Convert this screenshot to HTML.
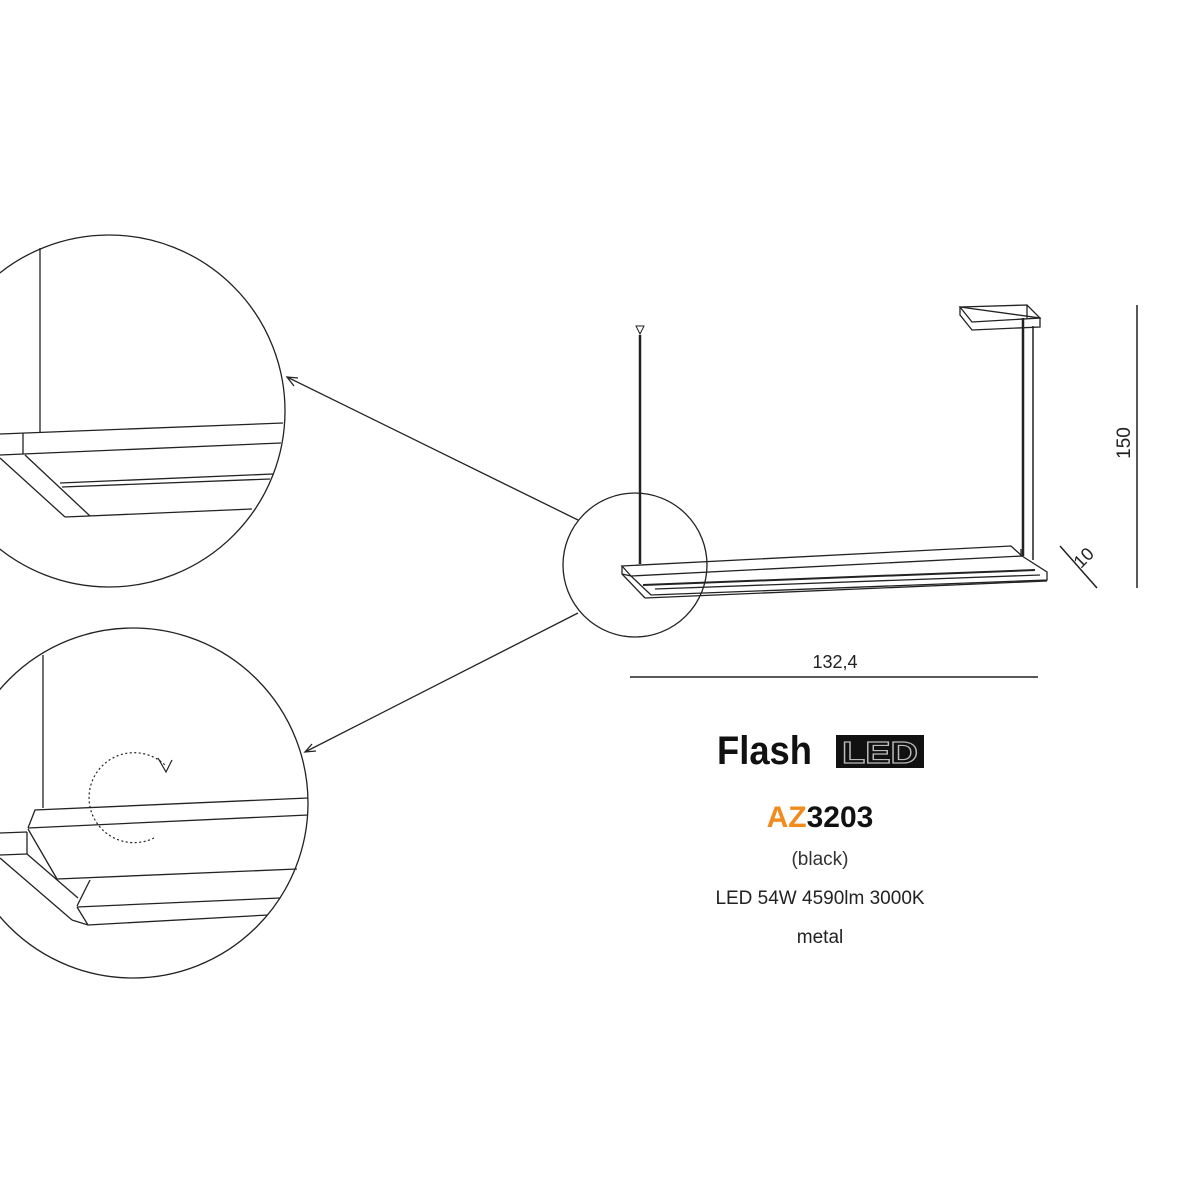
<!DOCTYPE html>
<html><head><meta charset="utf-8"><style>
html,body{margin:0;padding:0;background:#fff;}
svg{display:block;}
</style></head><body>
<svg width="1200" height="1200" viewBox="0 0 1200 1200" xmlns="http://www.w3.org/2000/svg" font-family="Liberation Sans, sans-serif">
<g fill="none" stroke="#222" stroke-width="1.3">
<!-- top detail circle -->
<circle cx="109" cy="411" r="176"/>
<line x1="40" y1="248" x2="40" y2="433"/>
<line x1="0" y1="434" x2="283" y2="423"/>
<line x1="23" y1="433" x2="23" y2="454"/>
<line x1="0" y1="455" x2="281" y2="443"/>
<line x1="0" y1="458" x2="65" y2="517"/>
<line x1="25" y1="455" x2="90" y2="516"/>
<line x1="60" y1="483" x2="273" y2="474"/>
<line x1="62" y1="487" x2="270" y2="479"/>
<line x1="65" y1="517" x2="252" y2="509"/>
<!-- bottom detail circle -->
<circle cx="133" cy="803" r="175"/>
<line x1="43" y1="655" x2="43" y2="808"/>
<polyline points="28,828 35,810 308,798"/>
<line x1="28" y1="828" x2="308" y2="815"/>
<line x1="0" y1="833" x2="27" y2="832"/>
<line x1="0" y1="855" x2="27" y2="854"/>
<line x1="27" y1="832" x2="27" y2="854"/>
<line x1="0" y1="858" x2="72" y2="920"/>
<line x1="28" y1="829" x2="57" y2="879"/>
<line x1="27" y1="854" x2="78" y2="898"/>
<line x1="57" y1="879" x2="297" y2="869"/>
<line x1="90" y1="880" x2="77" y2="906"/>
<line x1="77" y1="907" x2="280" y2="898"/>
<polyline points="72,920 88,925 268,915"/>
<line x1="77" y1="907" x2="88" y2="925"/>
<path d="M154,838 A45,45 0 1 1 165,765" stroke-dasharray="2,2.5" stroke-width="1.2"/>
<polyline points="158,758 166,772 172,760" stroke-width="1.2"/>
<!-- small circle -->
<circle cx="635" cy="565" r="72"/>
<!-- arrows -->
<line x1="578" y1="520" x2="287" y2="377"/>
<polyline points="298,378 287,377 294,386"/>
<line x1="578" y1="613" x2="305" y2="752"/>
<polyline points="312,744 305,752 316,751"/>
<!-- lamp -->
<line x1="640" y1="335" x2="640" y2="564" stroke-width="2.5"/>
<path d="M636,326 L644,326 L640,334 Z" stroke-width="1"/>
<polygon points="960,307 1027,305 1040,318 972,322"/>
<line x1="1027" y1="305" x2="1027" y2="318"/>
<polygon points="960,307 960,315 972,330 1040,327 1040,318"/>
<line x1="1023" y1="318" x2="1023" y2="556" stroke-width="2.5"/>
<line x1="1033" y1="326" x2="1033" y2="560" stroke-width="1.5"/>
<polygon points="622,566 1011,546 1022,556 631,576"/>
<polyline points="622,566 622,574 631,576"/>
<polyline points="631,576 651,595 1047,580 1047,572 1022,556"/>
<line x1="1021" y1="556" x2="1021" y2="549"/>
<line x1="643" y1="585" x2="1035" y2="570" stroke-width="2"/>
<line x1="655" y1="589" x2="1040" y2="575"/>
<line x1="622" y1="574" x2="645" y2="598"/>
<line x1="645" y1="598" x2="1047" y2="581"/>
<!-- dimensions -->
<line x1="1137" y1="305" x2="1137" y2="588" stroke-width="1.5"/>
<line x1="1060" y1="546" x2="1097" y2="588" stroke-width="1.5"/>
<line x1="630" y1="677" x2="1038" y2="677" stroke-width="1.5"/>
</g>
<text x="835" y="668" font-size="18" text-anchor="middle" fill="#222">132,4</text>
<text transform="translate(1130,443) rotate(-90)" font-size="19" text-anchor="middle" fill="#222">150</text>
<text transform="translate(1088,562) rotate(-45)" font-size="18" text-anchor="middle" fill="#222">10</text>
<text x="717" y="764" font-size="40" font-weight="bold" fill="#111" textLength="95" lengthAdjust="spacingAndGlyphs">Flash</text>
<rect x="836" y="735" width="88" height="33" fill="#111"/>
<text x="880" y="763" font-size="31" font-weight="bold" text-anchor="middle" fill="#111" stroke="#bbb" stroke-width="1.2" textLength="76" lengthAdjust="spacingAndGlyphs">LED</text>
<text x="820" y="827" font-size="30" font-weight="bold" text-anchor="middle"><tspan fill="#f28a1e">AZ</tspan><tspan fill="#111">3203</tspan></text>
<text x="820" y="865" font-size="19" text-anchor="middle" fill="#333">(black)</text>
<text x="820" y="904" font-size="19" text-anchor="middle" fill="#222">LED 54W 4590lm 3000K</text>
<text x="820" y="943" font-size="19" text-anchor="middle" fill="#222">metal</text>
</svg>
</body></html>
